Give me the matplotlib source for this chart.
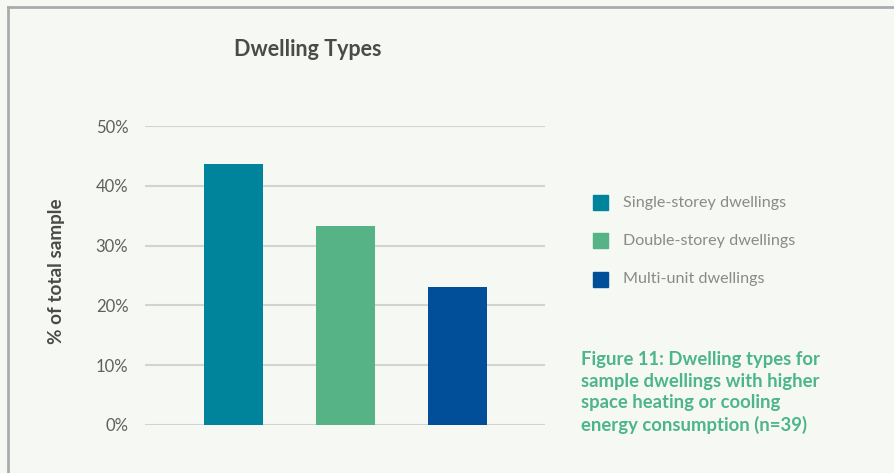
import matplotlib.pyplot as plt
from matplotlib.patches import Rectangle
from matplotlib.lines import Line2D

plt.rcParams['font.family'] = ['Lato', 'DejaVu Sans']

categories = ["Single-storey dwellings", "Double-storey dwellings", "Multi-unit dwellings"]
shares = [43.6, 33.3, 23.1]
colors = ["#00849c", "#55b386", "#004f98"]
yticks = [0, 10, 20, 30, 40, 50]

bg = "#f6f8f3"
fig = plt.figure(figsize=(8.95, 4.73), dpi=100)
fig.patch.set_facecolor(bg)

# grey frame on the left and top edges
fig.add_artist(Line2D([0.0085, 0.0085], [0, 0.985], transform=fig.transFigure, color="#a9abae", lw=2))
fig.add_artist(Line2D([0.0085, 1.0], [0.985, 0.985], transform=fig.transFigure, color="#a9abae", lw=2))

ax = fig.add_axes([0.162, 0.1015, 0.447, 0.6321])
ax.set_facecolor(bg)
x = range(len(shares))
ax.bar(x, shares, width=0.527, color=colors, zorder=3)
ax.set_xlim(-0.79, 2.78)
ax.set_ylim(0, 50)
ax.set_yticks(yticks)
ax.set_yticklabels([f"{t}%" for t in yticks], fontsize=12, color="#5f5f5f")
ax.yaxis.grid(True, color="#d3d4cf", lw=1.5, zorder=0)
ax.set_xticks([])
ax.tick_params(axis="y", length=0, pad=12)
for s in ax.spines.values():
    s.set_visible(False)
ax.set_ylabel("% of total sample", fontsize=13.6, fontweight="bold", color="#4a4a4a", labelpad=22)
ax.yaxis.label.set_y(0.513)

fig.text(308 / 895, 1 - 50 / 473, "Dwelling Types", ha="center", va="center",
         fontsize=15.5, fontweight="bold", color="#4a4a4a")

# legend
for i, (name, c) in enumerate(zip(categories, colors)):
    y = 1 - (203 + 38 * i) / 473
    fig.add_artist(Rectangle((593 / 895, y - 7.5 / 473), 15 / 895, 15 / 473,
                             transform=fig.transFigure, color=c))
    fig.text(623 / 895, y, name, ha="left", va="center", fontsize=11.6, color="#8a8a8a")

fig.text(581 / 895, 1 - 351 / 473,
         "Figure 11: Dwelling types for\nsample dwellings with higher\nspace heating or cooling\nenergy consumption (n=39)",
         ha="left", va="top", fontsize=13.3, fontweight="bold", color="#4db58a", linespacing=1.33)

fig.savefig("out.png", dpi=100, facecolor=bg)
